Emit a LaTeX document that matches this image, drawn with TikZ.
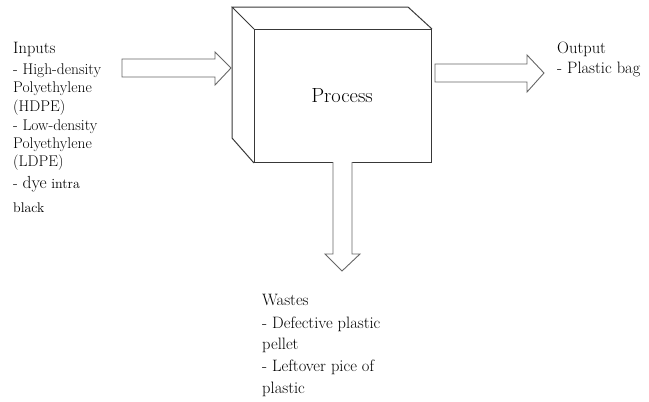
\documentclass[tikz,border=0pt]{standalone}
\begin{document}
\begin{tikzpicture}[x=1pt,y=-1pt,
  boxline/.style={draw=black!78,line width=1pt,line join=miter},
  fatarrow/.style={draw=black!60,line width=0.9pt,fill=white,line join=miter},
  lbl/.style={anchor=base west,inner sep=0pt,font=\fontsize{15.5}{18}\selectfont},
  head/.style={anchor=base west,inner sep=0pt,font=\fontsize{16.5}{19}\selectfont},
  wst/.style={anchor=base west,inner sep=0pt,font=\fontsize{16.5}{20}\selectfont}]
\useasboundingbox (0,0) rectangle (649,402);
% box
\coordinate (b1) at (232,7);
\coordinate (b2) at (408,7);
\coordinate (b3) at (232,138);
\node[boxline,fill=white,minimum width=177pt,minimum height=133pt,anchor=north west,inner sep=0pt] (front) at (254,29) {};
\draw[boxline] (front.north west) -- (b1) -- (b2) -- (front.north east);
\draw[boxline] (b1) -- (b3) -- (front.south west);
\node[font=\fontsize{20.5}{24}\selectfont] (proc) at (342,96) {Process};
% input arrow
\draw[fatarrow] (122,59) -- (215,59) -- (215,52) -- (231,68) -- (215,85) -- (215,77) -- (122,77) -- cycle;
% output arrow
\draw[fatarrow] (435,64) -- (527,64) -- (527,55) -- (544,73) -- (527,92) -- (527,82) -- (435,82) -- cycle;
% waste arrow
\draw[fatarrow] (333,162) -- (333,254) -- (325,254) -- (342,271) -- (360,254) -- (352,254) -- (352,162);
% inputs text
\node[head] (i0) at (13,53) {Inputs};
\node[lbl] (i1) at (13,74) {- High-density};
\node[lbl] (i2) at (13,92) {Polyethylene};
\node[lbl] (i3) at (13,111) {(HDPE)};
\node[lbl] (i4) at (13,130) {- Low-density};
\node[lbl] (i5) at (13,148) {Polyethylene};
\node[lbl] (i6) at (13,166) {(LDPE)};
\node[lbl] (i7) at (13,188) {- {\fontsize{17.5}{20}\selectfont dye} {\fontsize{14}{17}\selectfont intra}};
\node[lbl,font=\fontsize{14}{17}\selectfont] (i8) at (13,212) {black};
% output text
\node[head] (o0) at (557,53) {Output};
\node[head] (o1) at (557,73) {- Plastic bag};
% wastes text
\node[wst] (w0) at (262,305) {Wastes};
\node[wst] (w1) at (262,328) {- Defective plastic};
\node[wst] (w2) at (262,349) {pellet};
\node[wst] (w3) at (262,371) {- Leftover pice of};
\node[wst] (w4) at (262,393) {plastic};
\end{tikzpicture}
\end{document}
